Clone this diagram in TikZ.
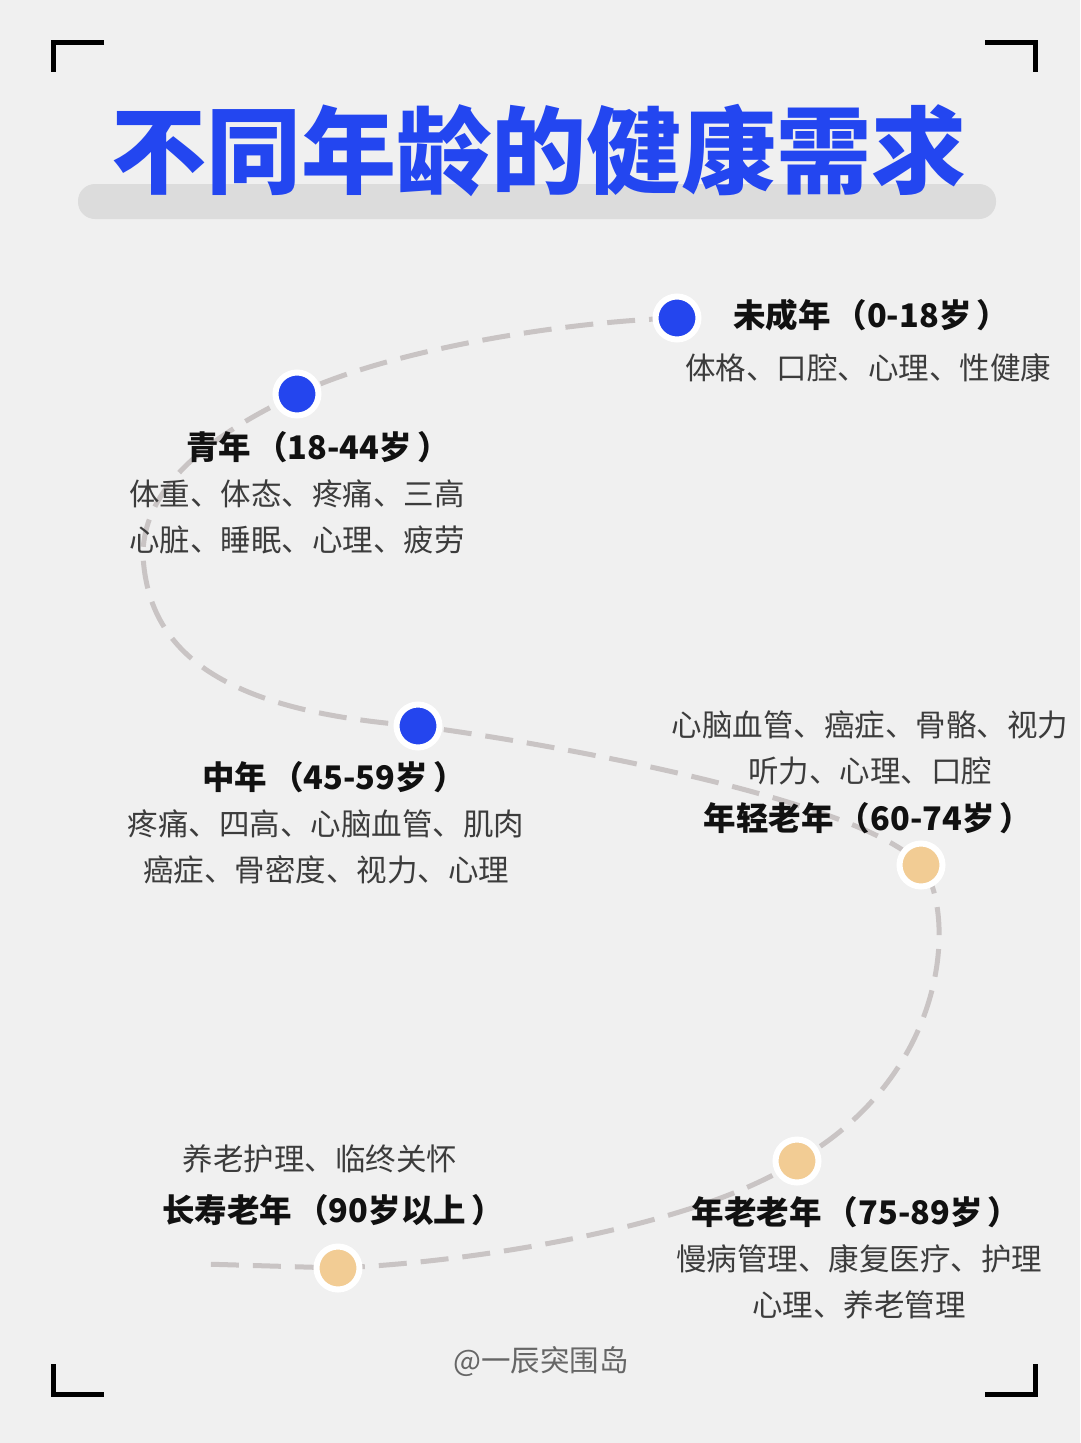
\documentclass[tikz,border=0pt]{standalone}
\usepackage{fontspec}
\setmainfont{Noto Sans CJK SC}
\definecolor{bgc}{HTML}{F0F0F0}
\definecolor{barc}{HTML}{DCDCDC}
\definecolor{tblue}{HTML}{2346F0}
\definecolor{dblue}{HTML}{2445EE}
\definecolor{dorange}{HTML}{F2CC94}
\definecolor{pathc}{HTML}{C9C4C4}
\definecolor{desc}{HTML}{3C3C3C}
\definecolor{headc}{HTML}{111111}
\newcommand\myLP{\kern4pt（}
\newcommand\myRP{\kern5pt）}
\begin{document}
\begin{tikzpicture}[x=1pt,y=-1pt,
  dotb/.style={circle,fill=dblue,draw=white,line width=6pt,minimum size=43pt,inner sep=0pt},
  doto/.style={circle,fill=dorange,draw=white,line width=6pt,minimum size=43pt,inner sep=0pt},
  head/.style={font=\fontsize{32.5}{36}\selectfont\bfseries,text=headc,inner sep=0pt},
  desctext/.style={font=\fontsize{30.5}{46}\selectfont,text=desc,inner sep=0pt,align=center},
  corner/.style={line width=5pt,black},
  trail/.style={pathc,line width=5pt,dash pattern=on 28pt off 14pt}]
\useasboundingbox[fill=bgc] (0,0) rectangle (1080,1443);
% corners
\draw[corner] (104,42) -- (53,42) -- (53,72);
\draw[corner] (985,42) -- (1035,42) -- (1035,72);
\draw[corner] (53,1364) -- (53,1394) -- (104,1394);
\draw[corner] (1035,1364) -- (1035,1394) -- (985,1394);
% title
\fill[barc,rounded corners=17pt] (78,184) rectangle (996,219);
\node[font=\fontsize{95}{100}\selectfont\bfseries,text=tblue,inner sep=0pt] (title) at (539,150) {不同年龄的健康需求};
% path points
\coordinate (p1) at (677,318);
\coordinate (p2) at (297,394);
\coordinate (m1) at (143,555);
\coordinate (p3) at (418,726);
\coordinate (p4) at (921,865);
\coordinate (p5) at (797,1161);
\coordinate (p6) at (338,1268);
\coordinate (pend) at (203,1264);
\draw[trail] (p1) .. controls (560,322) and (390,350) .. (p2)
  .. controls (235,424) and (143,475) .. (m1)
  .. controls (148,660) and (235,712) .. (p3)
  .. controls (560,745) and (860,800) .. (p4)
  .. controls (955,905) and (955,1070) .. (p5)
  .. controls (700,1225) and (480,1262) .. (p6)
  -- (pend);
% dots
\node[dotb] (d1) at (p1) {};
\node[dotb] (d2) at (p2) {};
\node[dotb] (d3) at (p3) {};
\node[doto] (d4) at (p4) {};
\node[doto] (d5) at (p5) {};
\node[doto] (d6) at (p6) {};
% labels
\node[head,anchor=west] (h1) at (733,315) {未成年\myLP 0-18岁\myRP};
\node[desctext,anchor=west] (t1) at (685,368) {体格、口腔、心理、性健康};
\node[head] (h2) at (318,447) {青年\myLP 18-44岁\myRP};
\node[desctext] (t2) at (297,517) {体重、体态、疼痛、三高\\心脏、睡眠、心理、疲劳};
\node[head] (h3) at (334,777) {中年\myLP 45-59岁\myRP};
\node[desctext] (t3) at (326,847) {疼痛、四高、心脑血管、肌肉\\癌症、骨密度、视力、心理};
\node[desctext] (t4) at (870,748) {心脑血管、癌症、骨骼、视力\\听力、心理、口腔};
\node[head] (h4) at (868,818) {年轻老年\myLP 60-74岁\myRP};
\node[head] (h5) at (856,1212) {年老老年\myLP 75-89岁\myRP};
\node[desctext] (t5) at (859,1282) {慢病管理、康复医疗、护理\\心理、养老管理};
\node[desctext] (t6) at (320,1159) {养老护理、临终关怀};
\node[head] (h6) at (333,1210) {长寿老年\myLP 90岁以上\myRP};
\node[font=\fontsize{29.5}{30}\selectfont,text=black!60,inner sep=0pt] (sig) at (541,1362) {@一辰突围岛};
\end{tikzpicture}
\end{document}
